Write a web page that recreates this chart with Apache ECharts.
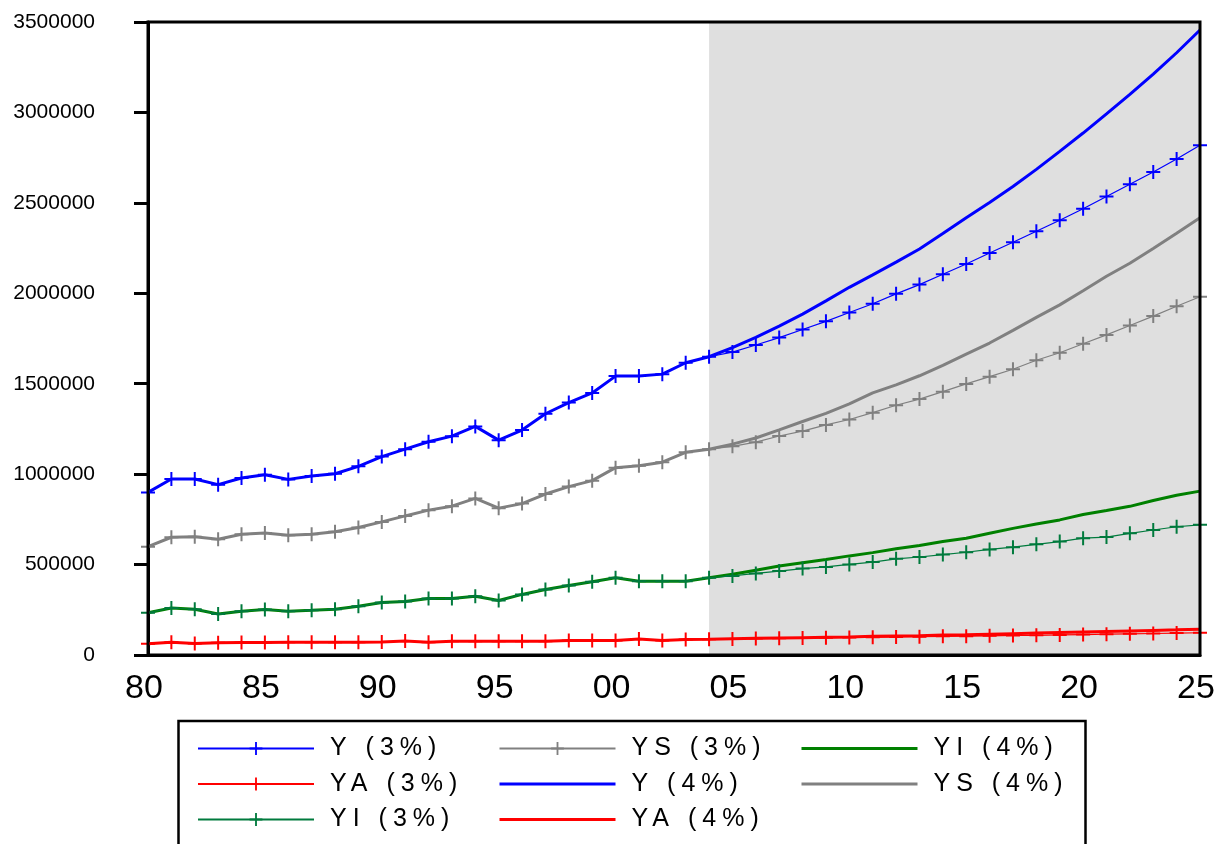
<!DOCTYPE html>
<html>
<head>
<meta charset="utf-8">
<script src="https://cdn.jsdelivr.net/npm/echarts@6/dist/echarts.min.js"></script>
<style>
html,body{margin:0;padding:0;background:#fff;}
#chart{width:1219px;height:844px;}
</style>
</head>
<body>
<div id="chart"></div>
<script>
// ---------- data ----------
const years = [1980,1981,1982,1983,1984,1985,1986,1987,1988,1989,1990,1991,1992,1993,1994,1995,1996,1997,1998,1999,
  2000,2001,2002,2003,2004,2005,2006,2007,2008,2009,2010,2011,2012,2013,2014,2015,2016,2017,2018,2019,2020,2021,2022,2023,2024,2025];

const Y_3 = [899000,973000,973000,942000,979000,997000,971000,990000,1002000,1043000,1097000,1138000,1179000,1210000,1264000,1188000,1244000,1334000,1396000,1449000,
  1542000,1542000,1553000,1616000,1649000,1675000,1714000,1755000,1800000,1845000,1894000,1942000,1997000,2048000,2105000,2162000,2223000,2282000,2343000,2404000,2467000,2535000,2603000,2671000,2743000,2818000];
const YA_3 = [62000,70000,64000,68000,69000,69000,70000,70000,71000,71000,72000,78000,70000,76000,76000,76000,76000,76000,80000,80000,
  80000,88000,80000,86000,87000,89000,91000,92000,94000,95000,97000,98000,100000,101000,103000,104000,106000,108000,109000,111000,113000,115000,117000,119000,121000,123000];
const YI_3 = [234000,260000,253000,227000,242000,251000,242000,247000,253000,269000,290000,296000,312000,312000,325000,301000,335000,362000,384000,405000,
  427000,408000,408000,408000,427000,437000,451000,464000,478000,487000,501000,514000,532000,542000,555000,568000,584000,596000,612000,627000,646000,652000,673000,691000,709000,720000];
const YS_3 = [599000,651000,654000,640000,668000,675000,662000,668000,682000,705000,736000,769000,801000,823000,866000,812000,837000,890000,931000,964000,
  1036000,1047000,1066000,1121000,1138000,1154000,1177000,1211000,1238000,1272000,1302000,1340000,1381000,1415000,1456000,1499000,1539000,1580000,1630000,1671000,1721000,1770000,1822000,1874000,1928000,1981000];

const Y_4 = [899000,973000,973000,942000,979000,997000,971000,990000,1002000,1043000,1097000,1138000,1179000,1210000,1264000,1188000,1244000,1334000,1396000,1449000,
  1542000,1542000,1553000,1616000,1649000,1700000,1756000,1818000,1885000,1958000,2033000,2102000,2172000,2245000,2330000,2418000,2502000,2590000,2685000,2785000,2886000,2992000,3100000,3212000,3330000,3456000];
const YA_4 = [62000,70000,64000,68000,69000,69000,70000,70000,71000,71000,72000,78000,70000,76000,76000,76000,76000,76000,80000,80000,
  80000,88000,80000,86000,87000,90000,92000,94000,96000,98000,100000,103000,105000,107000,110000,112000,115000,118000,121000,124000,127000,130000,133000,136000,139000,143000];
const YI_4 = [234000,260000,253000,227000,242000,251000,242000,247000,253000,269000,290000,296000,312000,312000,325000,301000,335000,362000,384000,405000,
  427000,408000,408000,408000,427000,446000,469000,492000,510000,528000,548000,566000,587000,605000,627000,646000,673000,700000,724000,747000,777000,799000,822000,854000,883000,906000];
const YS_4 = [599000,651000,654000,640000,668000,675000,662000,668000,682000,705000,736000,769000,801000,823000,866000,812000,837000,890000,931000,964000,
  1036000,1047000,1066000,1121000,1138000,1166000,1200000,1245000,1291000,1336000,1388000,1449000,1494000,1544000,1601000,1664000,1725000,1795000,1867000,1936000,2014000,2094000,2166000,2248000,2332000,2417000];

const forecastStart = 2004;
const forecastEnd = 2025;
const xTicks = [1980,1985,1990,1995,2000,2005,2010,2015,2020,2025];
const yTicks = [0,500000,1000000,1500000,2000000,2500000,3000000,3500000];

// ---------- letter spacing for legend text (canvas) ----------
(function(){
  const proto = CanvasRenderingContext2D.prototype;
  const orig = proto.fillText;
  proto.fillText = function(t, x, y, w){
    if ('letterSpacing' in this) {
      this.letterSpacing = (this.font && this.font.indexOf('25px') >= 0) ? '6px' : '0px';
    }
    return w === undefined ? orig.call(this, t, x, y) : orig.call(this, t, x, y, w);
  };
})();

const pair = arr => years.map((yr, i) => [yr, arr[i]]);
const PLUS = 'path://M0,6H6V0H8V6H14V8H8V14H6V8H0Z';
const FONT = 'Liberation Sans, Arial, sans-serif';

function thick(name, arr, color, extra){
  return Object.assign({
    name, type:'line', data: pair(arr), symbol:'none', showSymbol:false,
    lineStyle:{color, width:3}, itemStyle:{color}, z:2, silent:true
  }, extra || {});
}
function thin(name, arr, color){
  return {
    name, type:'line', data: pair(arr), symbol: PLUS, symbolSize: 14, showSymbol:true, showAllSymbol:true,
    lineStyle:{color, width:1.2}, itemStyle:{color, borderWidth:0}, z:3, silent:true
  };
}

const series = [
  thick('Y (4%)', Y_4, '#0000FF', {
    markArea:{silent:true, itemStyle:{color:'#DFDFDF', opacity:1},
      data:[[{xAxis:forecastStart},{xAxis:forecastEnd}]]}
  }),
  thick('YS (4%)', YS_4, '#808080'),
  thick('YI (4%)', YI_4, '#008000'),
  thick('YA (4%)', YA_4, '#FF0000'),
  thin('YS (3%)', YS_3, '#808080'),
  thin('YI (3%)', YI_3, '#007A3D'),
  thin('Y (3%)', Y_3, '#0000FF'),
  thin('YA (3%)', YA_3, '#FF0000')
];

const legendBase = {
  orient:'vertical', top:735.5, padding:0, itemWidth:116, itemHeight:16, itemGap:9.5,
  selectedMode:false,
  textStyle:{fontSize:25, lineHeight:26, color:'#000', fontFamily:FONT, padding:[0,0,0,11]}
};
const hideSym = name => ({name, itemStyle:{opacity:0}, lineStyle:{width:3}});

const option = {
  animation:false,
  backgroundColor:'#fff',
  grid:{left:148, right:19, top:22, bottom:189, show:false},
  xAxis:{
    type:'value', min:1980, max:2025, interval:5,
    axisLine:{show:true, lineStyle:{color:'#000', width:3}},
    axisTick:{show:false},
    splitLine:{show:false},
    axisLabel:{
      fontSize:34, color:'#000', fontFamily:FONT, margin:17, padding:[0,8,0,0],
      customValues: xTicks,
      formatter: v => String(v % 100).padStart(2,'0')
    }
  },
  yAxis:{
    type:'value', min:0, max:3500000, interval:500000,
    axisLine:{show:true, lineStyle:{color:'#000', width:3}},
    axisTick:{show:true, length:14, lineStyle:{color:'#000', width:3}},
    splitLine:{show:false},
    axisLabel:{fontSize:21, color:'#000', fontFamily:FONT, margin:53,
      formatter: v => yTicks.indexOf(v) >= 0 ? String(v) : ''}
  },
  legend:[
    Object.assign({}, legendBase, {left:197, data:['Y (3%)','YA (3%)','YI (3%)']}),
    Object.assign({}, legendBase, {left:498, data:['YS (3%)', hideSym('Y (4%)'), hideSym('YA (4%)')]}),
    Object.assign({}, legendBase, {left:800, data:[hideSym('YI (4%)'), hideSym('YS (4%)')]})
  ],
  graphic:[
    {type:'rect', z:100, silent:true, shape:{x:148, y:22, width:1052, height:633},
      style:{fill:null, stroke:'#000', lineWidth:3}},
    {type:'rect', z:100, silent:true, shape:{x:178.5, y:721, width:907, height:200},
      style:{fill:null, stroke:'#000', lineWidth:2.5}}
  ],
  series
};

const chart = echarts.init(document.getElementById('chart'), null, {renderer:'canvas'});
chart.setOption(option);
</script>
</body>
</html>
